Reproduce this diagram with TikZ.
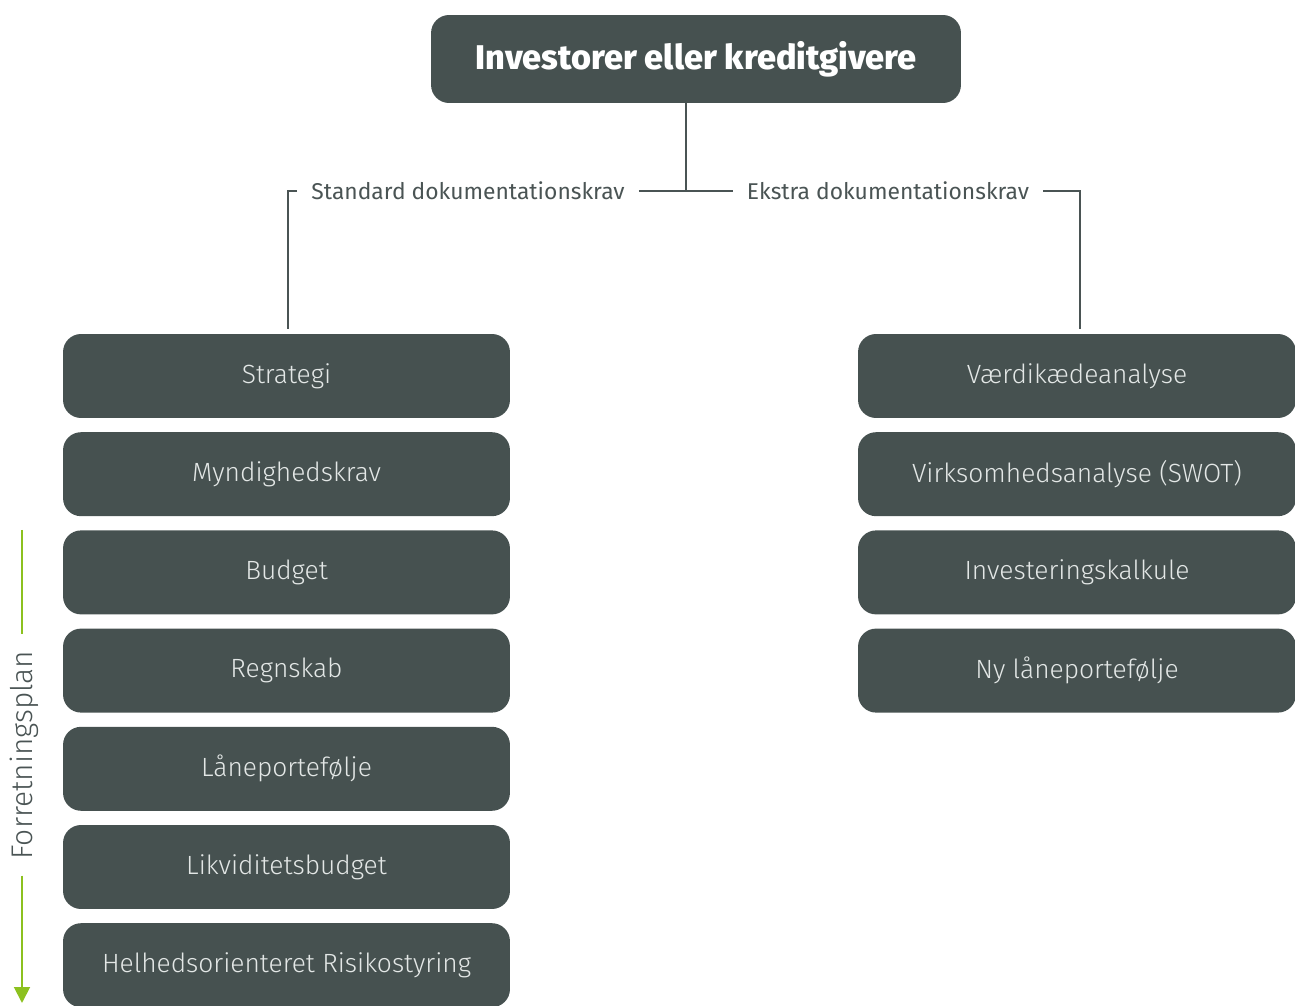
\documentclass[tikz,border=0pt]{standalone}
\usepackage{fontspec}
\setmainfont{Fira Sans}[UprightFont=* Light, BoldFont=* ExtraBold]
\newfontfamily\regfont{Fira Sans}
\usetikzlibrary{arrows.meta}
\usetikzlibrary{positioning}
\definecolor{slate}{HTML}{465150}
\definecolor{boxtext}{HTML}{E3E7E6}
\definecolor{leaf}{HTML}{8CC11F}
\definecolor{linegray}{HTML}{4A5454}

\begin{document}
\begin{tikzpicture}[x=0.02cm,y=-0.02cm,
  item/.style={fill=slate,rounded corners=0.36cm,text=boxtext,font=\fontsize{15}{17}\selectfont,minimum height=1.68cm,inner sep=0pt},
  branch/.style={text=linegray,font=\regfont\fontsize{13}{15}\selectfont,inner xsep=0.28cm,inner ysep=2pt},
  link/.style={draw=linegray,line width=1.4pt}]
\useasboundingbox (0,0) rectangle (1295,1006);

\node[item,minimum width=10.6cm,minimum height=1.76cm,text=white,font=\bfseries\fontsize{19.5}{22}\selectfont] (top) at (696,59) {Investorer eller kreditgivere};

% standard side
\foreach \name/\txt [count=\i from 0] in {A/Strategi,B/Myndighedskrav,C/Budget,D/Regnskab,E/Låneportefølje,F/Likviditetsbudget,G/Helhedsorienteret Risikostyring}
  \node[item,minimum width=8.94cm] (\name) at (286.5,{376+98.2*\i}) {\txt};
% extra side
\foreach \name/\txt [count=\i from 0] in {H/Værdikædeanalyse,I/Virksomhedsanalyse (SWOT),J/Investeringskalkule,K/Ny låneportefølje}
  \node[item,minimum width=8.76cm] (\name) at (1077,{376+98.2*\i}) {\txt};

\coordinate (mid) at (686,191);
\coordinate (lcorner) at (288,191);
\coordinate (rcorner) at (1080,191);
\node[branch] (std) at (468,191) {Standard dokumentationskrav};
\node[branch] (xtra) at (888,191) {Ekstra dokumentationskrav};

\draw[link] (top.south -| mid) -- (mid);
\draw[link] (std.east) -- (mid) -- (xtra.west);
\draw[link,shorten >=0.1cm] (std.west) -- (lcorner) -- (lcorner |- A.north);
\draw[link,shorten >=0.1cm] (xtra.east) -- (rcorner) -- (rcorner |- H.north);

% Forretningsplan
\coordinate (ptop) at (22,530);
\coordinate (pbot) at (22,1003);
\node[rotate=90,text=linegray,font=\fontsize{17}{19}\selectfont,inner xsep=0.32cm,inner ysep=0pt] (plan) at (24,755) {Forretningsplan};
\draw[leaf,line width=1.1pt] (ptop) -- (ptop |- plan.east);
\draw[leaf,line width=1.1pt,-{Triangle[width=9pt,length=9pt]}] (pbot |- plan.west) -- (pbot);
\end{tikzpicture}
\end{document}
